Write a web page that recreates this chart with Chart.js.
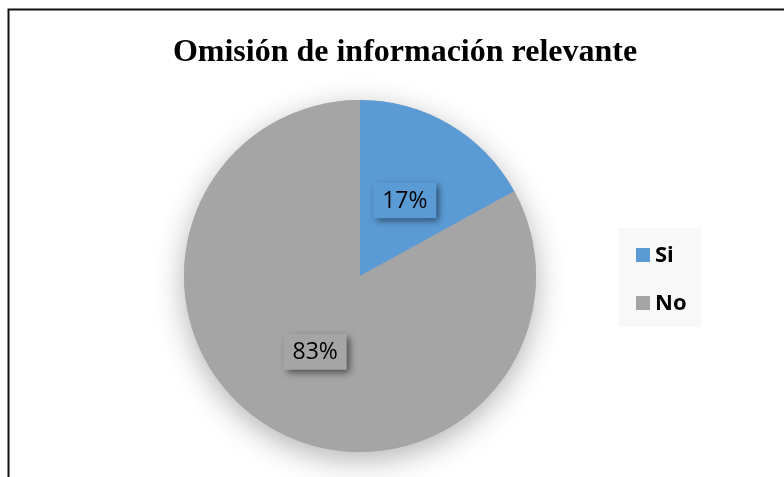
<!DOCTYPE html>
<html>
<head>
<meta charset="utf-8">
<script src="https://cdn.jsdelivr.net/npm/chart.js@4.4.1/dist/chart.umd.min.js"></script>
<style>
  html, body { margin: 0; padding: 0; background: #ffffff; }
  #wrap { width: 784px; height: 477px; position: relative; }
</style>
</head>
<body>
<div id="wrap"><canvas id="c" width="784" height="477"></canvas></div>
<script>
const chartTitle = "Omisión de información relevante";
const categories = ["Si", "No"];
const percentValues = [17, 83];
const sliceColors = ["#5B9BD5", "#A5A5A5"];

const framePlugin = {
  id: "frame",
  beforeDraw(chart) {
    const ctx = chart.ctx;
    ctx.save();
    ctx.fillStyle = "#ffffff";
    ctx.fillRect(0, 0, chart.width, chart.height);
    ctx.strokeStyle = "#111111";
    ctx.lineWidth = 2;
    ctx.beginPath();
    ctx.moveTo(8.5, chart.height);
    ctx.lineTo(8.5, 9.5);
    ctx.lineTo(chart.width, 9.5);
    ctx.stroke();
    // title
    ctx.fillStyle = "#000000";
    ctx.font = "bold 32px 'Liberation Serif', 'Times New Roman', serif";
    ctx.textAlign = "center";
    ctx.textBaseline = "alphabetic";
    ctx.fillText(chartTitle, 405, 61);
    // legend
    ctx.fillStyle = "#f8f8f8";
    ctx.fillRect(618, 228, 83, 99);
    const labels = chart.data.labels;
    const colors = chart.data.datasets[0].backgroundColor;
    ctx.font = "bold 22px 'Open Sans', sans-serif";
    ctx.textAlign = "left";
    labels.forEach((lab, i) => {
      const cy = 255 + i * 48;
      ctx.fillStyle = colors[i];
      ctx.fillRect(636, cy - 7, 14, 14);
      ctx.fillStyle = "#000000";
      ctx.textBaseline = "middle";
      ctx.fillText(lab, 655, cy + 1);
    });
    ctx.restore();
  },
  beforeDatasetsDraw(chart) {
    const meta = chart.getDatasetMeta(0);
    const arc = meta.data[0];
    if (!arc) return;
    const { x, y, outerRadius } = arc.getProps(["x", "y", "outerRadius"], true);
    const ctx = chart.ctx;
    ctx.save();
    ctx.shadowColor = "rgba(0,0,0,0.30)";
    ctx.shadowBlur = 30;
    ctx.shadowOffsetY = 8;
    ctx.fillStyle = "#A5A5A5";
    ctx.beginPath();
    ctx.arc(x, y, outerRadius, 0, Math.PI * 2);
    ctx.fill();
    ctx.restore();
  },
  afterDatasetsDraw(chart) {
    const meta = chart.getDatasetMeta(0);
    const ds = chart.data.datasets[0];
    const ctx = chart.ctx;
    ctx.save();
    ctx.font = "23px 'Open Sans', sans-serif";
    meta.data.forEach((arc, i) => {
      const p = arc.getProps(["x", "y", "startAngle", "endAngle", "outerRadius"], true);
      const mid = (p.startAngle + p.endAngle) / 2;
      const r = p.outerRadius * 0.5;
      const cx = p.x + Math.cos(mid) * r;
      const cy = p.y + Math.sin(mid) * r;
      const text = ds.data[i] + "%";
      const w = 63, h = 36;
      ctx.save();
      ctx.shadowColor = "rgba(0,0,0,0.55)";
      ctx.shadowBlur = 7;
      ctx.shadowOffsetX = 3;
      ctx.shadowOffsetY = 3;
      ctx.fillStyle = ds.backgroundColor[i];
      ctx.fillRect(cx - w / 2, cy - h / 2, w, h);
      ctx.restore();
      ctx.fillStyle = "#000000";
      ctx.textAlign = "center";
      ctx.textBaseline = "middle";
      ctx.fillText(text, cx, cy + 1);
    });
    ctx.restore();
  }
};

new Chart(document.getElementById("c"), {
  type: "pie",
  data: {
    labels: categories,
    datasets: [{
      data: percentValues,
      backgroundColor: sliceColors,
      borderWidth: 0
    }]
  },
  options: {
    responsive: false,
    animation: false,
    layout: { padding: { left: 184, right: 248, top: 100, bottom: 25 } },
    plugins: {
      legend: { display: false },
      title: { display: false },
      tooltip: { enabled: false }
    }
  },
  plugins: [framePlugin]
});
</script>
</body>
</html>
